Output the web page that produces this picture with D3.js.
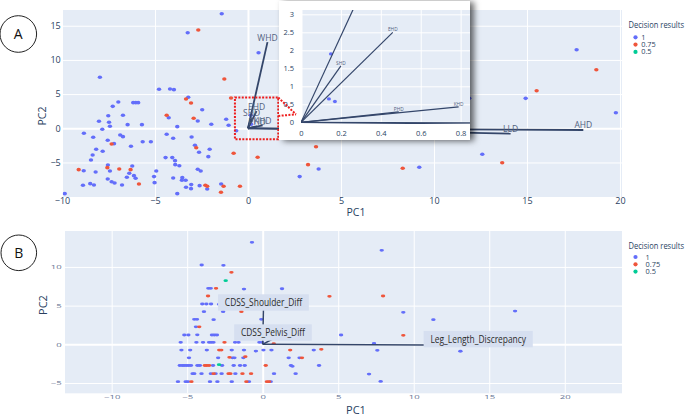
<!DOCTYPE html>
<html>
<head>
<meta charset="utf-8">
<script src="https://cdn.jsdelivr.net/npm/d3@7"></script>
<style>
body { margin: 0; background: #fff; }
svg { display: block; font-family: "Open Sans", "DejaVu Sans", sans-serif; }
</style>
</head>
<body>
<svg id="chart" width="685" height="415"></svg>
<script>
// panel A: PCA scores
var scoresA_pc1 = [
    -1.41, -3.24, -2.67, -7.96, -1.27, -4.78, -4.19, -3.98, -0.91, -3.21,
    -3.33, -3.06, -6.97, -7.27, -6.17, -6.03, -5.9, -2.46, -7.51, -6.72,
    -4.37, -4.26, -2.92, -2.7, -8.01, -7.47, -7.42, -7.83, -6.47, -5.7,
    -3.8, -1.97, -1.17, -1.04, -0.63, -8.82, -8.32, -6.87, -6.72, -4.37,
    -4.02, -3.03, -7.54, -7.33, -7.2, -8.16, -7.81, -6.29, -5.66, -5.22,
    -2.85, -2.78, -2.63, -2.06, -2.13, -0.77, -8.35, -8.44, -4.43, -4.07,
    -3.92, -3.91, -3.69, -7.53, -9.1, -8.83, -8.19, -7.42, -7.56, -6.92,
    -6.31, -6.22, -6.38, -6.13, -6.51, -6.04, -7.54, -7.33, -7.17, -6.77,
    -5.86, -8.48, -8.28, -8.87, -9.85, -4.93, -5.05, -5.02, -4.02, -3.53,
    -3.55, -3.35, -3.05, -3.33, -3.06, -3.8, -2.7, -2.54, -2.6, -2.29,
    -2.19, -2.19, -1.44, -1.31, -1.45, -0.43, 0.57, 0.52, 3.66, 3.23,
    3.8, 2.78, 8.32, 9.21, 12.6, 13.67, 19.78, 17.67, 18.73, 15.52,
    14.93, 11.9, 0.15, 0.14, 0.17
];
var scoresA_pc2 = [
    16.75, 13.98, 14.37, 7.46, 7.2, 5.7, 5.75, 5.65, 4.43, 4.53,
    4.28, 3.7, 3.85, 3.21, 3.75, 3.75, 3.75, 2.72, 1.84, 1.9,
    1.9, 1.55, 1.46, 1.07, 1.02, 0.88, 0.29, -0.15, 0.53, 0.53,
    0.24, 0.58, 1.32, 0.44, -0.35, -0.73, -1.32, -0.98, -1.22, -0.88,
    -1.46, -1.27, -1.76, -2.3, -2.25, -3.07, -3.36, -2.63, -1.96, -1.96,
    -2.49, -2.84, -3.51, -3.07, -4.15, -3.65, -3.9, -4.63, -4.29, -4.29,
    -4.73, -5.32, -5.47, -5.37, -6.05, -6.2, -6.39, -6.24, -5.76, -5.95,
    -6.05, -5.51, -6.58, -6.93, -7.16, -7.31, -7.41, -7.81, -8.0, -8.29,
    -8.14, -8.1, -8.29, -8.33, -9.56, -6.24, -7.07, -7.95, -7.27, -7.22,
    -7.6, -7.6, -8.24, -8.63, -8.83, -9.56, -6.0, -6.24, -8.39, -8.33,
    -8.48, -8.87, -8.14, -8.48, -9.36, -8.48, 11.05, -4.24, -2.69, -5.32,
    -5.95, -7.07, -5.85, -5.7, -3.8, -5.03, 2.28, 11.49, 8.57, 5.5,
    4.38, 4.4, 1.9, 0.65, 0.58
];
var scoresA_result = [
    1, 1, 0.75, 1, 0.75, 1, 1, 1, 0.75, 1,
    0.75, 0.75, 1, 1, 1, 1, 1, 1, 1, 1,
    0.75, 1, 0.75, 1, 1, 1, 1, 1, 1, 1,
    1, 1, 1, 1, 1, 1, 1, 1, 1, 1,
    1, 1, 1, 0.75, 1, 1, 1, 1, 1, 1,
    1, 0.75, 1, 1, 1, 0.75, 1, 1, 1, 1,
    1, 1, 1, 1, 0.75, 1, 1, 1, 0.75, 0.75,
    0.75, 1, 1, 1, 1, 1, 1, 1, 1, 1,
    0.75, 1, 1, 1, 1, 1, 1, 1, 1, 1,
    1, 1, 1, 1, 1, 1, 1, 1, 1, 0.75,
    0.75, 1, 1, 0.75, 0.75, 0.75, 1, 0.75, 0.75, 0.75,
    1, 1, 0.75, 1, 1, 0.75, 1, 1, 0.75, 0.75,
    1, 1, 1, 1, 1
];

// panel A: loadings (arrows)
var loadingsA_name = ["WHD", "EHD", "SHD", "PHD", "KHD", "LLD", "AHD"];
var loadingsA_pc1 = [1.05, 0.46, 0.2, 0.49, 0.79, 14.12, 18.03];
var loadingsA_pc2 = [12.6, 2.5, 1.57, 0.29, 0.43, -0.79, -0.25];

// zoomed region marked in panel A: [x0, x1, y0, y1]
var zoomBoxA = [-0.7, 1.63, -1.6, 4.5];

// panel B: PCA scores
var scoresB_pc1 = [
    -0.71, -4.04, -2.6, -2.07, -2.45, -3.6, -3.44, -3.09, -1.24, 1.28,
    4.42, -3.62, -4.0, -3.73, -3.42, -2.89, -3.89, -2.62, -1.41, -0.09,
    -4.53, -4.35, -3.25, -4.42, -4.2, -5.19, -4.92, -4.33, -3.36, -3.2,
    -3.03, -5.43, -4.39, -3.95, -3.55, -3.41, -3.26, -2.53, -1.83, -1.6,
    -0.22, -0.04, 0.73, -5.38, -4.8, -3.7, -2.88, -2.74, -2.05, -1.24,
    -0.45, 0.05, 0.58, 1.82, 3.38, 3.88, -4.88, -2.95, -2.2, -2.0,
    -1.87, -1.28, -1.15, 1.72, 2.44, 2.6, -5.49, -5.33, -5.2, -5.05,
    -4.9, -4.75, -4.32, -4.16, -3.83, -3.7, -3.55, -3.29, -2.89, -2.69,
    -1.92, -1.5, -1.19, 0.2, 1.87, 1.97, 3.73, -4.64, -4.53, -4.05,
    -3.43, -3.25, -3.12, -2.72, -2.26, -2.14, -1.81, -1.34, -0.77, 0.75,
    2.18, -5.61, -5.1, -4.95, -4.72, -3.49, -3.0, -2.05, -1.08, -0.91,
    0.28, 0.42, 0.53, 5.19, 7.88, 7.97, 9.31, 11.3, 16.71, 9.31,
    7.37, 7.59, 13.09, 7.04, 7.81
];
var scoresB_pc2 = [
    13.18, 10.25, 10.2, 9.3, 8.22, 7.23, 7.23, 7.23, 7.14, 7.18,
    6.2, 6.24, 5.21, 5.21, 5.21, 5.17, 4.21, 4.21, 4.21, 3.23,
    3.23, 3.23, 3.18, 2.26, 2.26, 1.2, 1.2, 1.22, 1.2, 1.2,
    1.2, 0.26, 0.26, 0.26, 0.26, 0.26, 0.26, 0.26, 0.26, 0.26,
    0.26, 0.26, 0.08, -0.74, -0.74, -0.74, -0.74, -0.74, -0.74, -0.74,
    -0.87, -0.74, -0.74, -0.74, -0.74, -0.65, -1.75, -1.75, -1.68, -1.75,
    -1.75, -1.75, -1.6, -1.75, -1.75, -1.75, -2.74, -2.74, -2.74, -2.74,
    -2.74, -2.74, -2.74, -2.74, -2.74, -2.74, -2.74, -2.74, -2.63, -2.74,
    -2.74, -2.74, -2.74, -2.74, -2.74, -2.85, -2.74, -3.79, -3.79, -3.79,
    -3.79, -3.79, -3.79, -3.79, -3.79, -3.79, -3.79, -3.79, -3.79, -3.79,
    -3.79, -4.83, -4.83, -4.83, -4.83, -4.83, -4.83, -4.83, -4.83, -4.83,
    -4.83, -4.83, -4.83, 1.2, 12.14, 6.24, 4.13, 3.18, 4.3, 1.16,
    0.13, -0.78, -0.9, -3.84, -4.79
];
var scoresB_result = [
    1, 1, 1, 0.75, 0.5, 1, 1, 0.75, 1, 1,
    0.75, 0.75, 1, 1, 1, 1, 1, 1, 0.75, 1,
    1, 1, 1, 1, 0.75, 1, 1, 1, 1, 1,
    1, 1, 1, 1, 1, 1, 1, 0.75, 1, 1,
    1, 1, 0.75, 1, 1, 1, 0.75, 0.75, 1, 1,
    1, 1, 1, 0.75, 1, 0.75, 1, 1, 0.75, 1,
    1, 1, 0.75, 1, 1, 0.75, 1, 1, 1, 1,
    1, 1, 1, 1, 0.75, 0.75, 0.75, 1, 0.5, 1,
    1, 1, 1, 0.75, 1, 1, 1, 1, 1, 1,
    1, 0.75, 1, 1, 0.75, 0.75, 1, 0.75, 0.75, 1,
    1, 1, 1, 1, 0.75, 1, 1, 1, 0.75, 1,
    0.75, 0.75, 1, 1, 1, 0.75, 1, 1, 1, 0.75,
    1, 1, 1, 1, 1
];

// panel B: loadings
var loadingsB_name = ["CDSS_Shoulder_Diff", "CDSS_Pelvis_Diff", "Leg_Length_Discrepancy"];
var loadingsB_pc1 = [0.05, 0.68, 14.27];
var loadingsB_pc2 = [4.6, 0.72, -0.13];

// legend
var resultLevels = ["1", "0.75", "0.5"];
var resultColors = ["#636efa", "#ef553b", "#00cc96"];

// ticks
var ticksA_x = [-10, -5, 0, 5, 10, 15, 20];
var ticksA_y = [-5, 0, 5, 10, 15];
var ticksInset_x = [0, 0.2, 0.4, 0.6, 0.8];
var ticksInset_y = [0, 0.5, 1, 1.5, 2, 2.5, 3];
var ticksB_x = [-10, -5, 0, 5, 10, 15, 20];
var ticksB_y = [-5, 0, 5, 10];

var svg = d3.select("#chart");
var defs = svg.append("defs");

var shadow = defs.append("filter").attr("id", "shadow")
    .attr("x", "-10%").attr("y", "-10%").attr("width", "130%").attr("height", "130%");
shadow.append("feDropShadow").attr("dx", 4).attr("dy", 1).attr("stdDeviation", 3)
    .attr("flood-color", "#000").attr("flood-opacity", 0.6);

function fmt(d) {
    return d < 0 ? "\u2212" + Math.abs(d) : String(d);
}

function colorOf(r) {
    return resultColors[resultLevels.indexOf(String(r))];
}

var clipCount = 0;
function clipTo(x, y) {
    var id = "clip" + (clipCount++);
    defs.append("clipPath").attr("id", id).append("rect")
        .attr("x", x.range()[0]).attr("y", y.range()[1])
        .attr("width", x.range()[1] - x.range()[0])
        .attr("height", y.range()[0] - y.range()[1]);
    return "url(#" + id + ")";
}

// background, grid and tick labels (plotly look)
function drawFrame(g, x, y, tx, ty, o) {
    var x0 = x.range()[0], x1 = x.range()[1], y0 = y.range()[1], y1 = y.range()[0];
    g.append("rect").attr("x", x0).attr("y", y0)
        .attr("width", x1 - x0).attr("height", y1 - y0).attr("fill", "#e5ecf6");

    var ax = g.append("g").attr("transform", "translate(0," + y1 + ")")
        .call(d3.axisBottom(x).tickValues(tx).tickFormat(fmt).tickSize(-(y1 - y0)).tickPadding(o.padX));
    var ay = g.append("g").attr("transform", "translate(" + x0 + ",0)")
        .call(d3.axisLeft(y).tickValues(ty).tickFormat(fmt).tickSize(-(x1 - x0)).tickPadding(o.padY));

    [ax, ay].forEach(function (a) {
        a.attr("font-family", null).attr("font-size", null);
        a.select(".domain").remove();
        a.selectAll("line").attr("stroke", "#fff")
            .attr("stroke-width", function (d) { return d === 0 ? 2 : 1; });
        a.selectAll("text").attr("fill", o.color).style("font-size", o.size + "px");
    });
    return [ax, ay];
}

function drawScores(g, x, y, pc1, pc2, res, rx, ry, clip) {
    var order = d3.range(pc1.length).sort(function (a, b) {
        return resultLevels.indexOf(String(res[a])) - resultLevels.indexOf(String(res[b])) || a - b;
    });
    g.append("g").attr("clip-path", clip)
        .selectAll("ellipse").data(order).enter().append("ellipse")
        .attr("cx", function (i) { return x(pc1[i]); })
        .attr("cy", function (i) { return y(pc2[i]); })
        .attr("rx", rx).attr("ry", ry)
        .attr("fill", function (i) { return colorOf(res[i]); });
}

function inDomain(s, v) {
    var d = s.domain();
    return v >= Math.min(d[0], d[1]) && v <= Math.max(d[0], d[1]);
}

function drawArrows(g, x, y, names, pc1, pc2, o) {
    var a = g.append("g").attr("clip-path", o.clip);
    a.selectAll("line").data(names).enter().append("line")
        .attr("x1", x(0)).attr("y1", y(0))
        .attr("x2", function (d, i) { return x(pc1[i]); })
        .attr("y2", function (d, i) { return y(pc2[i]); })
        .attr("stroke", "#34466a").attr("stroke-width", o.width);
    if (!o.labels) return;
    // only label arrows whose tip is inside the plot
    var shown = d3.range(names.length).filter(function (i) {
        return inDomain(x, pc1[i]) && inDomain(y, pc2[i]);
    });
    a.selectAll("text").data(shown).enter().append("text")
        .attr("x", function (i) { return x(pc1[i]); })
        .attr("y", function (i) { return y(pc2[i]) - o.lift; })
        .attr("text-anchor", "middle")
        .attr("fill", "#52627f")
        .style("font-size", o.size + "px")
        .text(function (i) { return names[i]; });
}

function drawLegend(g, x0, titleY, itemY, labelDx) {
    g.append("text").attr("x", x0).attr("y", titleY)
        .attr("fill", "#2a3f5f").style("font-size", "8.3px")
        .attr("textLength", 55.5).attr("lengthAdjust", "spacingAndGlyphs")
        .text("Decision results");
    resultLevels.forEach(function (lv, i) {
        var cy = itemY + i * 7.3;
        g.append("circle").attr("cx", x0 + 7).attr("cy", cy).attr("r", 2.1)
            .attr("fill", resultColors[i]);
        g.append("text").attr("x", x0 + 7 + labelDx).attr("y", cy).attr("dy", "0.35em")
            .attr("fill", "#2a3f5f").style("font-size", "7.4px")
            .text(lv);
    });
}

function panelTag(cx, cy, r, letter) {
    svg.append("circle").attr("cx", cx).attr("cy", cy).attr("r", r)
        .attr("fill", "#fff").attr("stroke", "#222").attr("stroke-width", 1);
    svg.append("text").attr("x", cx).attr("y", cy).attr("dy", "0.36em")
        .attr("text-anchor", "middle").attr("fill", "#111").style("font-size", "14px")
        .text(letter);
}

function axisTitle(x, y, text, rotate, size) {
    svg.append("text")
        .attr("transform", "translate(" + x + "," + y + ")" + (rotate ? " rotate(-90)" : ""))
        .attr("text-anchor", "middle").attr("fill", "#2a3f5f")
        .style("font-size", size + "px")
        .text(text);
}

// ---------- panel A ----------
var xA = d3.scaleLinear().domain([-9.96, 20.11]).range([62.7, 622]);
var yA = d3.scaleLinear().domain([-10.05, 17.3]).range([197, 10]);
var gA = svg.append("g");
drawFrame(gA, xA, yA, ticksA_x, ticksA_y, { padX: 0.5, padY: 2, color: "#2a3f5f", size: 9 });
var clipA = clipTo(xA, yA);
drawScores(gA, xA, yA, scoresA_pc1, scoresA_pc2, scoresA_result, 2.2, 1.8, clipA);
drawArrows(gA, xA, yA, loadingsA_name, loadingsA_pc1, loadingsA_pc2,
    { width: 1.8, labels: true, lift: 1.5, size: 8.5, clip: clipA });

// red dotted box around the zoomed area
gA.append("rect")
    .attr("x", xA(zoomBoxA[0])).attr("y", yA(zoomBoxA[3]))
    .attr("width", xA(zoomBoxA[1]) - xA(zoomBoxA[0]))
    .attr("height", yA(zoomBoxA[2]) - yA(zoomBoxA[3]))
    .attr("fill", "none").attr("stroke", "#ee1c1c").attr("stroke-width", 2)
    .attr("stroke-dasharray", "2,1.4");

// inset zoom
var xI = d3.scaleLinear().domain([0, 0.847]).range([301, 470]);
var yI = d3.scaleLinear().domain([-0.047, 3.12]).range([124, 10]);
var gI = svg.append("g");
gI.append("rect").attr("x", 279).attr("y", 1).attr("width", 191).attr("height", 139)
    .attr("fill", "#fff").attr("filter", "url(#shadow)");
drawFrame(gI, xI, yI, ticksInset_x, ticksInset_y, { padX: 7, padY: 7, color: "#2a3f5f", size: 7.5 });
var clipI = clipTo(xI, yI);
drawScores(gI, xI, yI, scoresA_pc1, scoresA_pc2, scoresA_result, 2, 1.7, clipI);
drawArrows(gI, xI, yI, loadingsA_name, loadingsA_pc1, loadingsA_pc2,
    { width: 1.2, labels: true, lift: 1.2, size: 4.8, clip: clipI });

// dotted connectors from the red box to the inset
var meet = [xI(0) - 5, yI(0.22)];
var connectors = [
    [xA(zoomBoxA[1]), yA(zoomBoxA[3])],
    [xA(zoomBoxA[1]), meet[1] + 1.5]
];
connectors.forEach(function (p) {
    svg.append("line").attr("x1", p[0]).attr("y1", p[1]).attr("x2", meet[0]).attr("y2", meet[1])
        .attr("stroke", "#ee1c1c").attr("stroke-width", 2).attr("stroke-dasharray", "2,1.4");
});

drawLegend(svg.append("g"), 628.5, 28, 37.3, 5.7);
axisTitle(356, 216, "PC1", false, 10.5);
axisTitle(46, 116, "PC2", true, 10.5);
panelTag(18.3, 34, 18.3, "A");

// ---------- panel B ----------
var xB = d3.scaleLinear().domain([-13.09, 23.79]).range([65, 622]);
var yB = d3.scaleLinear().domain([-6.33, 14.64]).range([393.3, 231]);
var gB = svg.append("g");
var axB = drawFrame(gB, xB, yB, ticksB_x, ticksB_y, { padX: 2, padY: 2, color: "#5f7191", size: 5.6 });
// tick labels in this panel are stretched sideways
axB[0].selectAll("text").attr("transform", "scale(1.7,1)");
axB[1].selectAll("text").attr("x", -3.3 / 1.7).attr("transform", "scale(1.7,1)");

var clipB = clipTo(xB, yB);
drawScores(gB, xB, yB, scoresB_pc1, scoresB_pc2, scoresB_result, 2.2, 1.4, clipB);
drawArrows(gB, xB, yB, loadingsB_name, loadingsB_pc1, loadingsB_pc2,
    { width: 1.5, labels: false, clip: clipB });

// feature labels as boxed annotations
loadingsB_name.forEach(function (name, i) {
    var ex = xB(loadingsB_pc1[i]), ey = yB(loadingsB_pc2[i]);
    var h = 16.4, bottom = ey + 2;
    var box = gB.append("rect");
    var t = gB.append("text").attr("x", ex).attr("y", bottom - h / 2).attr("dy", "0.35em")
        .attr("text-anchor", "middle").attr("fill", "#2b2b2b").style("font-size", "10px")
        .text(name);
    var w = t.node().getComputedTextLength() * 0.84;
    t.attr("textLength", w).attr("lengthAdjust", "spacingAndGlyphs");
    box.attr("x", ex - w / 2 - 6.8).attr("y", bottom - h)
        .attr("width", w + 13.6).attr("height", h)
        .attr("fill", "#d6dff0");
});

drawLegend(svg.append("g"), 628.5, 248.5, 257, 10);
axisTitle(356, 414, "PC1", false, 11);
axisTitle(47, 305, "PC2", true, 11);
panelTag(18.8, 252.8, 17.8, "B");
</script>
</body>
</html>
